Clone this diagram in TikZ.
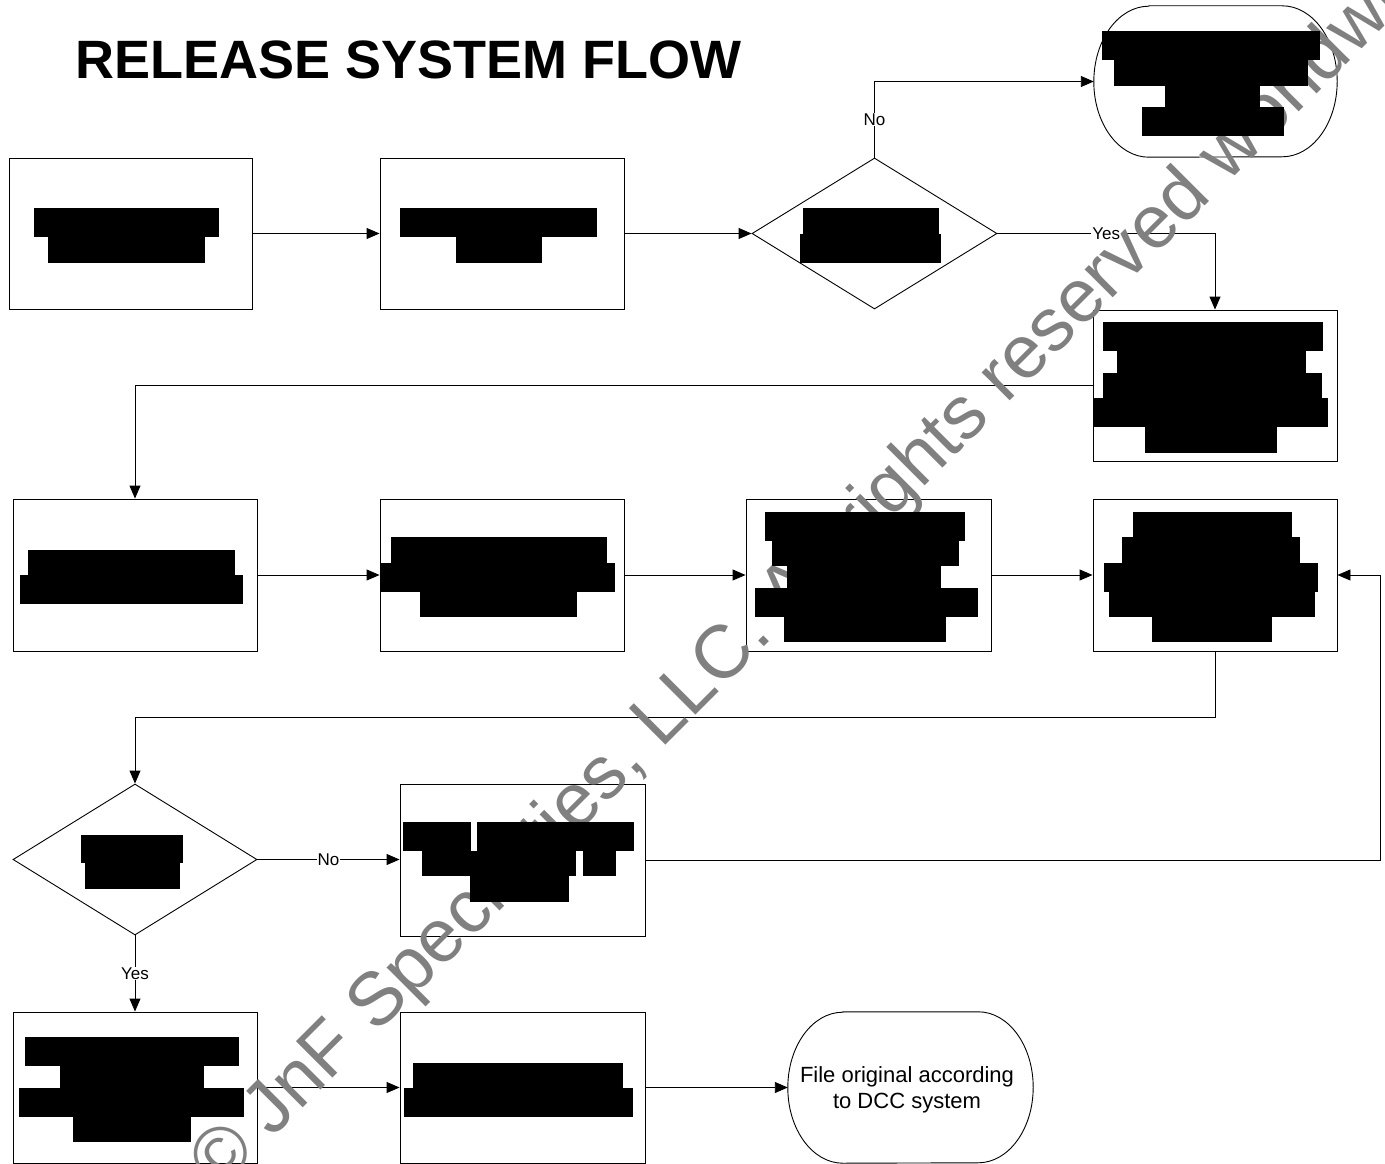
\documentclass[tikz,border=0pt]{standalone}
\usepackage{fontspec}
\setmainfont{Liberation Sans}
\usetikzlibrary{shapes.geometric,arrows.meta}
\definecolor{wmgray}{RGB}{128,128,128}
\begin{document}
\begin{tikzpicture}[x=1pt,y=-1pt,
  box/.style={draw=black, line width=0.9pt, rectangle, inner sep=0pt, minimum width=#1},
  dia/.style={draw=black, line width=0.9pt, diamond, inner sep=0pt, minimum width=245pt, minimum height=151pt},
  term/.style={rectangle, inner sep=0pt, minimum width=245pt, minimum height=151pt},
  arr/.style={-{Triangle[length=13pt,width=11pt]}, line width=0.9pt},
  lab/.style={fill=white, inner sep=1pt, font=\fontsize{17}{20}\selectfont},
  red/.style={fill=black, draw=none}]
\clip (0,0) rectangle (1385,1164);
\useasboundingbox (0,0) rectangle (1385,1164);

% title
\node[anchor=base west, inner sep=0pt, font=\fontsize{54}{60}\selectfont\bfseries] (title) at (75,79) {RELEASE SYSTEM FLOW};

% nodes
\node[box=243pt, minimum height=151pt] (b1) at (130.5,233.5) {};
\node[box=244pt, minimum height=151pt] (b2) at (502,233.5) {};
\node[dia] (d1) at (874.5,233.5) {};
\node[term, minimum width=243pt] (t1) at (1215.5,81.5) {};
\node[box=244pt, minimum height=151pt] (b3) at (1215,385.5) {};
\node[box=244pt, minimum height=152pt] (b4) at (135,575) {};
\node[box=244pt, minimum height=152pt] (b5) at (502,575) {};
\node[box=245pt, minimum height=152pt] (b6) at (868.5,575) {};
\node[box=244pt, minimum height=152pt] (b7) at (1215,575) {};
\node[dia, minimum width=244pt] (d2) at (135,859.5) {};
\node[box=245pt, minimum height=152pt] (b8) at (522.5,860) {};
\node[box=244pt, minimum height=151pt] (b9) at (135,1087.5) {};
\node[box=245pt, minimum height=151pt] (b10) at (522.5,1087.5) {};
\node[term] (t2) at (910.5,1087.5) {};
\node[font=\fontsize{22}{25.5}\selectfont, align=center, inner sep=0pt] (t2text) at (907,1090) {File original according\\to DCC system};

% terminator outlines
\draw[line width=0.9pt] ([xshift=55pt]t1.north west) -- ([xshift=-55pt]t1.north east)
  arc[start angle=90, end angle=-90, x radius=55pt, y radius=75.5pt]
  -- ([xshift=55pt]t1.south west)
  arc[start angle=270, end angle=90, x radius=55pt, y radius=75.5pt] -- cycle;
\draw[line width=0.9pt] ([xshift=55pt]t2.north west) -- ([xshift=-55pt]t2.north east)
  arc[start angle=90, end angle=-90, x radius=55pt, y radius=75.5pt]
  -- ([xshift=55pt]t2.south west)
  arc[start angle=270, end angle=90, x radius=55pt, y radius=75.5pt] -- cycle;

% connectors
\coordinate (j1) at (1215,717);
\coordinate (j2) at (1380,860);
\draw[arr] (b1.east) -- (b2.west);
\draw[arr] (b2.east) -- (d1.west);
\draw[arr] (d1.north) -- node[lab]{No} (d1.north |- t1.west) -- (t1.west);
\draw[arr] (d1.east) -- node[lab]{Yes} (d1.east -| b3.north) -- (b3.north);
\draw[arr] (b3.west) -- (b3.west -| b4.north) -- (b4.north);
\draw[arr] (b4.east) -- (b5.west);
\draw[arr] (b5.east) -- (b6.west);
\draw[arr] (b6.east) -- (b7.west);
\draw[arr] (b7.south) -- (j1) -| (d2.north);
\draw[arr] (d2.east) -- node[lab]{No} (d2.east -| b8.west);
\draw[arr] (d2.south) -- node[lab]{Yes} (b9.north);
\draw[arr] (b8.east) -- (j2) |- (b7.east);
\draw[arr] (b9.east) -- (b10.west);
\draw[arr] (b10.east) -- (t2.west);

% watermark
\node[rotate=45, anchor=base west, inner sep=0pt, text=wmgray, font=\fontsize{75}{90}\selectfont] (wm) at (219,1192) {© JnF Specialties, LLC. All rights reserved worldwide};

% redacted text
\foreach \a/\b/\c/\d in {
  34/208/219/237, 48/237/205/263,
  400/208/597/237, 456/237/542/263,
  803/208/939/234, 800/234/941/263,
  1102/31/1320/60, 1114/60/1308/86, 1165/86/1260/107, 1142/107/1284/136,
  1103/322/1323/351, 1117/351/1306/373, 1103/373/1322/398, 1094/398/1328/427, 1145/427/1277/453,
  28/550/235/575, 20/575/243/604,
  391/537/607/563, 381/563/615/592, 420/592/577/617,
  765/512/965/541, 772/541/959/566, 787/566/941/588, 755/588/978/617, 784/617/946/642,
  1133/512/1292/537, 1122/537/1300/563, 1104/563/1318/592, 1109/592/1315/617, 1152/617/1272/642,
  81/835/183/863, 85/863/180/889,
  403/822/471/851, 477/822/634/851, 422/851/576/876, 583/851/616/876, 470/876/569/902,
  25/1037/239/1066, 60/1066/204/1088, 19/1088/244/1117, 73/1117/191/1142,
  413/1063/623/1088, 404/1088/633/1117}
  \fill[red] (\a,\b) rectangle (\c,\d);
\end{tikzpicture}
\end{document}
